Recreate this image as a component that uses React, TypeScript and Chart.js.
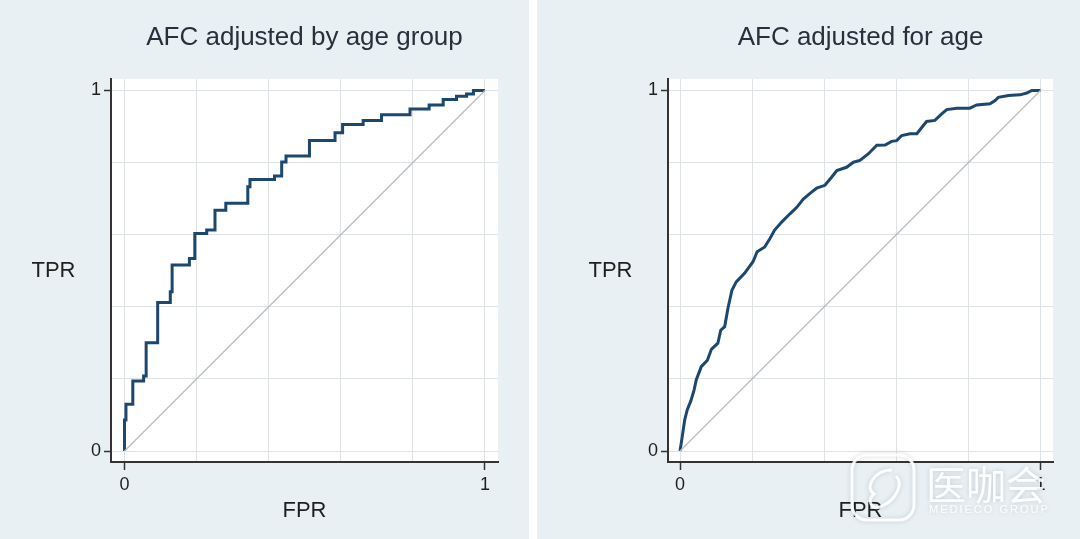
import React, { useEffect, useRef } from 'react';
import { Chart, registerables } from 'chart.js';

Chart.register(...registerables);

// ---------- data ----------
const GRID_TICKS = [0, 0.2, 0.4, 0.6, 0.8, 1];
const LABELED_TICKS = [0, 1];

const LEFT_TITLE = 'AFC adjusted by age group';
const RIGHT_TITLE = 'AFC adjusted for age';
const X_TITLE = 'FPR';
const Y_TITLE = 'TPR';

const REF_FPR = [0, 1];
const REF_TPR = [0, 1];

const LEFT_FPR = [0, 0, 0.004, 0.023, 0.053, 0.06, 0.092, 0.127, 0.132, 0.18, 0.195, 0.228, 0.251, 0.281, 0.342, 0.348, 0.416, 0.436, 0.448, 0.513, 0.584, 0.605, 0.662, 0.713, 0.792, 0.845, 0.884, 0.921, 0.949, 0.968, 1];
const LEFT_TPR = [0, 0.086, 0.13, 0.194, 0.208, 0.3, 0.412, 0.442, 0.516, 0.534, 0.603, 0.613, 0.668, 0.687, 0.733, 0.753, 0.763, 0.802, 0.818, 0.861, 0.883, 0.906, 0.917, 0.933, 0.949, 0.96, 0.975, 0.984, 0.99, 1, 1];

const RIGHT_FPR = [0, 0.0055, 0.013, 0.02, 0.03, 0.039, 0.045, 0.059, 0.076, 0.087, 0.105, 0.113, 0.124, 0.133, 0.144, 0.156, 0.179, 0.2025, 0.214, 0.235, 0.25, 0.262, 0.282, 0.305, 0.324, 0.342, 0.365, 0.379, 0.402, 0.421, 0.435, 0.462, 0.481, 0.499, 0.522, 0.546, 0.569, 0.587, 0.601, 0.615, 0.638, 0.657, 0.675, 0.684, 0.707, 0.726, 0.74, 0.768, 0.804, 0.823, 0.86, 0.874, 0.883, 0.911, 0.943, 0.962, 0.976, 1];
const RIGHT_TPR = [0, 0.035, 0.086, 0.114, 0.139, 0.169, 0.197, 0.234, 0.252, 0.282, 0.299, 0.335, 0.345, 0.396, 0.446, 0.469, 0.493, 0.525, 0.553, 0.566, 0.59, 0.612, 0.635, 0.658, 0.676, 0.699, 0.718, 0.729, 0.737, 0.76, 0.778, 0.787, 0.801, 0.806, 0.824, 0.848, 0.849, 0.859, 0.861, 0.875, 0.88, 0.88, 0.903, 0.914, 0.917, 0.935, 0.947, 0.951, 0.951, 0.96, 0.963, 0.972, 0.981, 0.986, 0.988, 0.993, 1, 1];

const WATERMARK_CN = '医咖会';
const WATERMARK_EN = 'MEDIECO GROUP';

// ---------- styles ----------
const FONT = '"Liberation Sans", Arial, "DejaVu Sans", sans-serif';
const BG = '#e9f0f3';
const GRID = '#e0e3e5';
const AXIS = '#333333';
const CURVE = '#1c476e';
const DIAG = '#bcbcbc';
const TEXT = '#1f1f1f';
const TITLE_COLOR = '#27303d';

const H = 539;

type PanelProps = {
  left: number;
  width: number;
  yAxisW: number;
  rightPad: number;
  xMin: number;
  xMax: number;
  title: string;
  fpr: number[];
  tpr: number[];
  stepped: boolean;
  watermark?: boolean;
};

function Panel(p: PanelProps) {
  const ref = useRef<HTMLCanvasElement | null>(null);
  useEffect(() => {
    if (!ref.current) return;
    const tickCol = (c: any) =>
      c.tick && LABELED_TICKS.includes(c.tick.value) ? AXIS : 'rgba(0,0,0,0)';
    const plotBg = {
      id: 'plotBg',
      beforeDraw(chart: any) {
        const { ctx, chartArea: a } = chart;
        ctx.save();
        ctx.fillStyle = '#ffffff';
        ctx.fillRect(a.left, a.top, a.right - a.left, a.bottom - a.top);
        ctx.restore();
      },
    };
    const yTitle = {
      id: 'yTitle',
      afterDraw(chart: any) {
        const { ctx, chartArea: a } = chart;
        ctx.save();
        ctx.font = `22px ${FONT}`;
        ctx.fillStyle = TEXT;
        ctx.textAlign = 'center';
        ctx.textBaseline = 'middle';
        ctx.fillText(Y_TITLE, a.left - 57.5, 271);
        ctx.restore();
      },
    };
    const wm = {
      id: 'wm',
      afterDraw(chart: any) {
        if (!p.watermark) return;
        const { ctx } = chart;
        const ox = 852 - p.left;
        ctx.save();
        ctx.shadowColor = 'rgba(0,0,0,0.18)';
        ctx.shadowBlur = 5;
        ctx.strokeStyle = 'rgba(255,255,255,0.9)';
        ctx.lineWidth = 3;
        ctx.beginPath();
        (ctx as any).roundRect(ox, 455, 62, 65, 15);
        ctx.stroke();
        ctx.beginPath();
        ctx.moveTo(ox + 40, 470);
        ctx.bezierCurveTo(ox + 22, 470, ox + 12, 488, ox + 22, 494);
        ctx.bezierCurveTo(ox + 14, 500, ox + 20, 512, ox + 30, 506);
        ctx.bezierCurveTo(ox + 44, 500, ox + 52, 484, ox + 44, 476);
        ctx.stroke();
        ctx.fillStyle = 'rgba(255,255,255,0.9)';
        ctx.font = `40px "Noto Sans CJK SC", sans-serif`;
        ctx.textBaseline = 'alphabetic';
        ctx.textAlign = 'left';
        ctx.fillText(WATERMARK_CN, 926 - p.left, 500);
        ctx.font = `11px ${FONT}`;
        (ctx as any).letterSpacing = '2px';
        ctx.fillText(WATERMARK_EN, 929 - p.left, 513);
        ctx.restore();
      },
    };
    const chart = new Chart(ref.current, {
      type: 'line',
      data: {
        datasets: [
          {
            data: REF_FPR.map((x, i) => ({ x, y: REF_TPR[i] })),
            borderColor: DIAG,
            borderWidth: 1.3,
            pointRadius: 0,
            fill: false,
          },
          {
            data: p.fpr.map((x, i) => ({ x, y: p.tpr[i] })),
            borderColor: CURVE,
            borderWidth: 3,
            pointRadius: 0,
            fill: false,
            stepped: p.stepped ? 'before' : false,
            borderJoinStyle: 'miter',
          },
        ],
      },
      options: {
        animation: false,
        responsive: false,
        events: [],
        layout: { padding: { left: 0, right: p.rightPad, top: 0, bottom: 0 } },
        plugins: {
          legend: { display: false },
          tooltip: { enabled: false },
          title: {
            display: true,
            text: p.title,
            fullSize: false,
            color: TITLE_COLOR,
            font: { family: FONT, size: 26, weight: 'normal' },
            padding: { top: 22.5, bottom: 25.3 },
          },
        },
        scales: {
          x: {
            type: 'linear',
            min: p.xMin,
            max: p.xMax,
            afterBuildTicks: (s: any) => {
              s.ticks = GRID_TICKS.map((v) => ({ value: v }));
            },
            afterFit: (s: any) => {
              s.height = H - 462;
            },
            grid: { color: GRID, lineWidth: 1, tickLength: 8, tickColor: tickCol, tickWidth: 1.5 },
            border: { display: true, color: AXIS, width: 2 },
            ticks: {
              autoSkip: false,
              maxRotation: 0,
              padding: 4,
              color: TEXT,
              font: { family: FONT, size: 18 },
              callback: (v: any) => (LABELED_TICKS.includes(v) ? String(v) : ''),
            },
            title: {
              display: true,
              text: X_TITLE,
              color: TEXT,
              font: { family: FONT, size: 22 },
              padding: { top: 0, bottom: 15 },
            },
          },
          y: {
            type: 'linear',
            min: -0.0305,
            max: 1.0319,
            afterBuildTicks: (s: any) => {
              s.ticks = GRID_TICKS.map((v) => ({ value: v }));
            },
            afterFit: (s: any) => {
              s.width = p.yAxisW;
            },
            grid: { color: GRID, lineWidth: 1, tickLength: 7, tickColor: tickCol, tickWidth: 1.5 },
            border: { display: true, color: AXIS, width: 2 },
            ticks: {
              autoSkip: false,
              padding: 3,
              color: TEXT,
              font: { family: FONT, size: 18 },
              callback: (v: any) => (LABELED_TICKS.includes(v) ? String(v) : ''),
            },
          },
        },
      },
      plugins: [plotBg, yTitle, wm],
    } as any);
    return () => chart.destroy();
  }, []);
  return (
    <canvas
      ref={ref}
      width={p.width}
      height={H}
      style={{ position: 'absolute', left: p.left, top: 0, width: p.width, height: H }}
    />
  );
}

export default function App() {
  return (
    <div
      style={{
        position: 'absolute',
        left: 0,
        top: 0,
        width: 1080,
        height: H,
        background: BG,
        overflow: 'hidden',
      }}
    >
      <Panel
        left={0}
        width={529}
        yAxisW={111}
        rightPad={31}
        xMin={-0.0375}
        xMax={1.0361}
        title={LEFT_TITLE}
        fpr={LEFT_FPR}
        tpr={LEFT_TPR}
        stepped={true}
      />
      <div style={{ position: 'absolute', left: 529, top: 0, width: 8, height: H, background: '#ffffff' }} />
      <Panel
        left={537}
        width={543}
        yAxisW={131}
        rightPad={27}
        xMin={-0.0333}
        xMax={1.0347}
        title={RIGHT_TITLE}
        fpr={RIGHT_FPR}
        tpr={RIGHT_TPR}
        stepped={false}
        watermark={true}
      />
    </div>
  );
}
